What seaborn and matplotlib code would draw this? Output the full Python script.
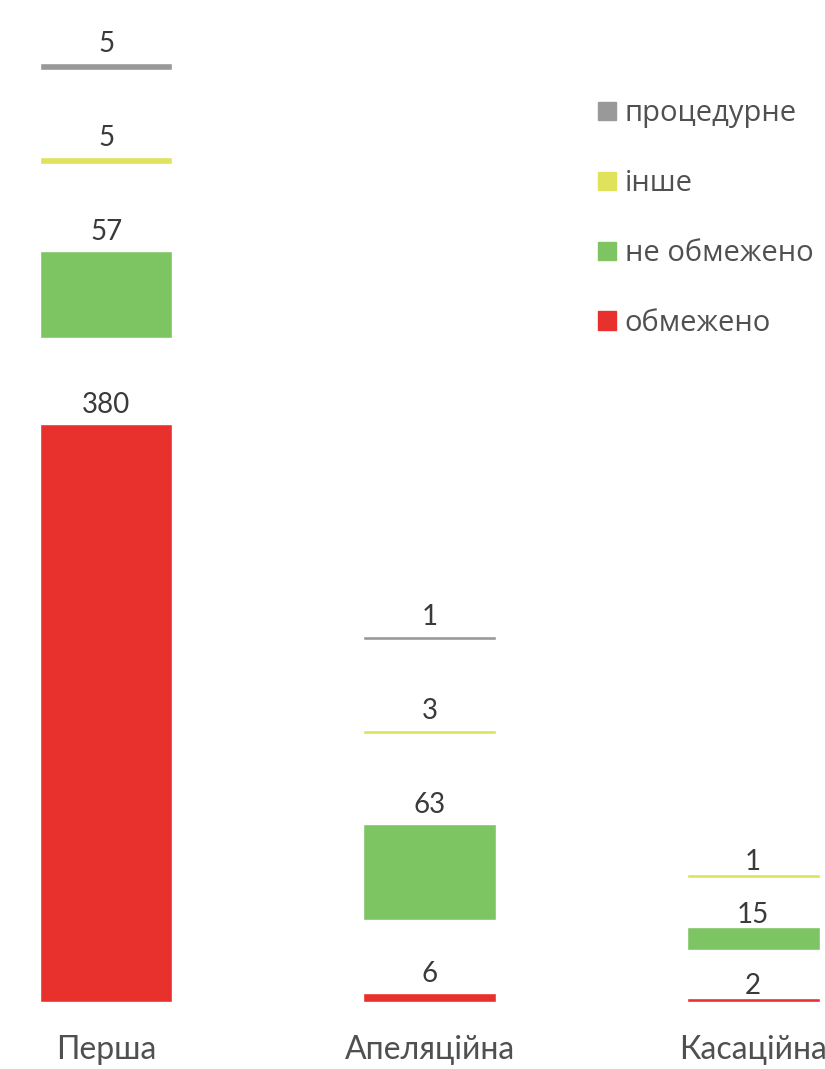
import numpy as np
import pandas as pd
import matplotlib.pyplot as plt
import seaborn as sns
from matplotlib.patches import Patch

INSTANCES = ["Перша", "Апеляційна", "Касаційна"]
LAYERS = ["обмежено", "не обмежено", "інше", "процедурне"]
OBMEZHENO = [380, 6, 2]
NE_OBMEZHENO = [57, 63, 15]
INSHE = [5, 3, 1]
PROTSEDURNE = [5, 1, 0]   # касаційна: немає

COLORS = {
    "обмежено": "#e8302c",
    "не обмежено": "#7dc462",
    "інше": "#dfe25a",
    "процедурне": "#999999",
}
# проміжки між сегментами (в одиницях осі y), по інстанціях
GAPS = [[57, 57, 57], [48, 59, 59], [32, 32, 32]]
MIN_H = 2.5
LABEL_OFFSET = [8, 8, 3]
TEXT_COLOR = "#3a3a3a"


def build_segments():
    values = [OBMEZHENO, NE_OBMEZHENO, INSHE, PROTSEDURNE]
    rows = []
    for i, inst in enumerate(INSTANCES):
        top = 0
        for j, layer in enumerate(LAYERS):
            v = values[j][i]
            if v == 0:
                continue
            bottom = top + (GAPS[i][j - 1] if j > 0 else 0)
            h = max(v, MIN_H)
            rows.append({"instance": inst, "pos": i, "layer": layer,
                         "value": v, "bottom": bottom, "height": h})
            top = bottom + h
    return pd.DataFrame(rows)


def main():
    sns.set_theme(style="white")
    plt.rcParams["font.family"] = ["Lato", "DejaVu Sans"]

    df = build_segments()

    fig = plt.figure(figsize=(8.25, 10.69), dpi=100)
    ax = fig.add_axes([0, 67 / 1069, 1, 1002 / 1069])

    for layer in LAYERS:
        sub = df[df["layer"] == layer]
        sns.barplot(data=sub, x="instance", y="height", order=INSTANCES,
                    bottom=sub["bottom"].values, color=COLORS[layer],
                    saturation=1, width=0.41, errorbar=None, ax=ax)

    for _, r in df.iterrows():
        ax.annotate(str(r["value"]), (r["pos"], r["bottom"] + r["height"]),
                    xytext=(0, LABEL_OFFSET[r["pos"]]), textcoords="offset points",
                    ha="center", va="baseline", fontsize=20, color=TEXT_COLOR)

    ax.set_xlim(-0.328, 2.222)
    ax.set_ylim(0, 1002 / 1.52)
    ax.set_xticks(range(len(INSTANCES)), INSTANCES)
    ax.tick_params(axis="x", length=0, pad=24, labelsize=23, labelcolor="#505050")
    ax.set_yticks([])
    ax.set_xlabel("")
    ax.set_ylabel("")
    sns.despine(ax=ax, left=True, bottom=True)

    handles = [Patch(color=COLORS[l]) for l in LAYERS[::-1]]
    fig.legend(handles, LAYERS[::-1], loc="upper left",
               bbox_to_anchor=(578 / 825, 1 - 79 / 1069), frameon=False,
               prop={"family": "Open Sans", "size": 21}, labelcolor="#505050",
               handlelength=0.6, handleheight=0.6, handletextpad=0.3,
               labelspacing=1.4, borderpad=0.2)

    fig.savefig("out.png", dpi=100)
    plt.close(fig)


if __name__ == "__main__":
    main()
